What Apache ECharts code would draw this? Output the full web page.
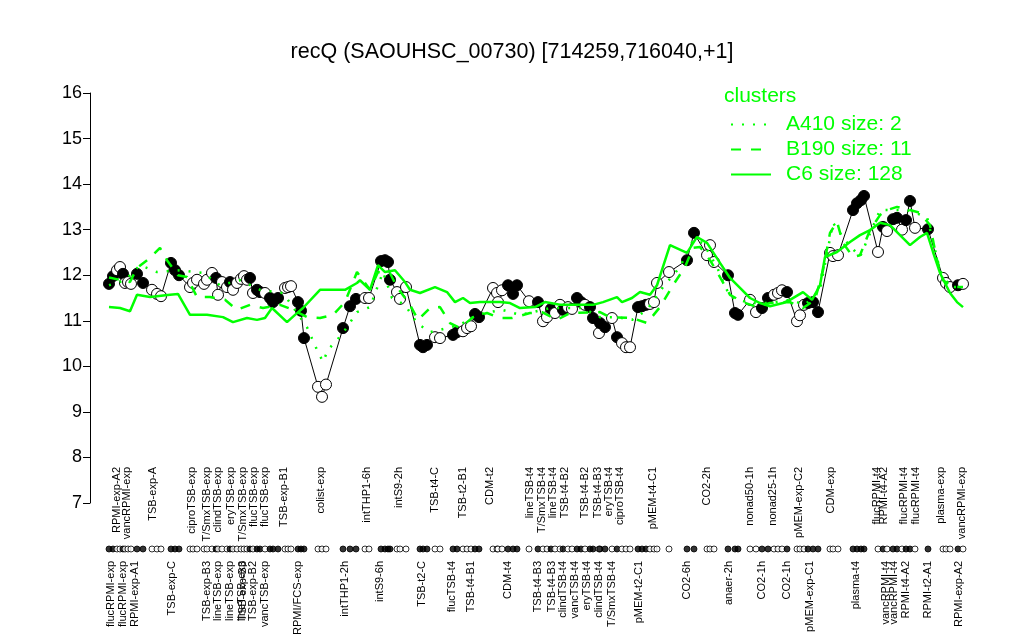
<!DOCTYPE html>
<html><head><meta charset="utf-8">
<script src="https://cdn.jsdelivr.net/npm/echarts@6/dist/echarts.min.js"></script>
<style>html,body{margin:0;padding:0;background:#fff}#c{width:1024px;height:640px}</style>
</head><body><div id="c"></div>
<script>
// condition positions along the x axis (condition order units)
const xPos = [19,23,27,30,33,35,38,41,47,53,
62,67,71,81,85,89,100,103,107,
114,117,122,126,128,132,137,140,143,147,151,154,157,160,163,167,170,175,180,183,188,195,198,201,
208,211,214,
228,232,236,
253,260,266,275,279,
291,295,298,300,307,310,316,
330,333,337,345,350,
363,367,373,377,381,385,389,
403,407,408,412,418,423,427,
439,448,453,457,461,465,470,473,478,482,487,491,495,500,503,509,510,515,522,527,532,536,540,
548,552,556,560,564,567,579,
597,604,617,620,624,
638,645,648,
660,666,672,678,684,688,692,697,
707,710,714,718,723,728,
740,743,748,
763,767,771,774,
788,793,797,803,807,812,816,820,825,838,
853,856,860,868,873];
// expression values (log2)
const values = [11.81,11.98,12.11,12.18,12.03,11.83,11.85,11.81,12.03,11.83,
11.68,11.59,11.54,12.27,12.11,12.00,11.74,11.83,11.90,
11.81,11.90,12.05,11.94,11.57,11.85,11.74,11.85,11.68,11.83,11.92,11.98,11.90,11.94,11.61,11.68,11.63,11.61,11.50,11.41,11.50,11.72,11.74,11.76,
11.41,11.22,10.62,
9.55,9.33,9.60,
10.84,11.32,11.48,11.50,11.50,
12.31,12.33,12.29,11.90,11.63,11.48,11.74,
10.47,10.42,10.47,10.64,10.62,
10.69,10.75,10.77,10.84,10.88,11.15,11.08,
11.72,11.61,11.41,11.67,11.78,11.59,11.78,
11.43,11.41,10.99,11.08,11.26,11.17,11.35,11.24,11.30,11.26,11.50,11.41,11.35,11.30,11.06,10.73,10.95,10.86,11.06,10.64,10.51,10.42,10.42,
11.30,11.32,11.35,11.37,11.41,11.83,12.07,
12.33,12.93,12.44,12.66,12.29,
12.00,11.17,11.13,
11.46,11.19,11.28,11.50,11.57,11.61,11.67,11.63,
10.99,11.12,11.35,11.39,11.41,11.19,
12.49,12.42,12.44,
13.43,13.58,13.65,13.74,
12.51,13.06,12.97,13.23,13.26,13.00,13.21,13.63,13.04,13.01,
11.94,11.83,11.74,11.78,11.81];
// 1 = black filled group, 0 = white group
const filled = [1,1,0,0,1,0,0,0,1,1,
0,0,0,1,1,1,0,0,0,
0,0,0,1,0,0,0,1,0,0,0,0,0,1,0,1,1,0,1,1,1,0,0,0,
1,1,1,
0,0,0,
1,1,1,0,0,
1,1,1,1,0,0,0,
1,1,1,0,0,
1,1,0,0,0,1,1,
0,0,0,0,1,1,1,
0,1,0,0,1,0,0,1,0,0,1,1,0,1,1,0,1,1,0,1,0,0,0,
1,1,1,0,0,0,0,
1,1,0,0,0,
1,1,1,
0,0,1,1,0,0,0,1,
0,0,0,1,1,1,
0,0,0,
1,1,1,1,
0,1,0,1,1,0,1,1,0,1,
0,0,0,1,0];

// cluster profiles
const c6X = [19,30,40,47,60,80,88,100,117,133,143,157,167,175,182,197,205,213,230,255,267,270,280,288,295,305,315,320,330,345,357,365,373,380,390,410,420,430,445,455,470,503,513,527,532,542,550,560,567,580,597,607,617,630,640,650,660,670,680,693,700,713,722,730,735,747,760,770,780,790,800,810,820,830,837,843,850,860,867,873];
const c6Y = [11.30,11.28,11.21,11.57,11.52,11.57,11.59,11.13,11.13,11.08,10.97,11.06,11.02,11.06,11.28,10.97,11.13,11.28,11.68,11.68,11.83,11.89,11.68,12.22,12.07,12.11,11.85,11.68,11.61,11.74,11.63,11.41,11.50,11.39,11.41,11.41,11.39,11.28,11.30,11.41,11.35,11.35,11.41,11.52,11.41,11.50,11.63,11.57,11.78,12.66,12.49,12.84,12.71,12.27,11.94,11.72,11.50,11.39,11.32,11.39,11.46,11.63,11.46,11.78,12.40,12.51,12.73,12.88,12.99,13.15,13.10,12.88,12.66,12.84,12.93,12.51,12.05,11.61,11.41,11.30];
const b190X = [19,40,47,60,70,77,88,97,107,120,135,147,160,173,190,203,217,230,243,255,267,280,288,300,307,320,328,340,350,360,370,383,397,410,422,440,452,467,480,510,520,542,557,570,583,595,603,610,620,630,640,653,667,680,700,713,725,733,740,747,753,763,770,780,790,797,807,820,830,840,847,853,863,873];
const b190Y = [11.95,11.85,12.16,12.38,12.60,12.33,12.00,11.96,11.52,11.52,11.46,11.24,11.35,11.28,11.35,11.24,11.08,11.06,11.13,11.41,12.07,11.68,12.07,12.05,11.74,11.35,11.02,11.28,11.30,10.95,10.84,11.08,11.17,11.06,11.06,11.17,11.19,11.02,11.17,11.19,11.08,11.06,10.95,11.30,11.78,12.18,12.60,12.62,12.33,11.96,11.57,11.41,11.30,11.39,11.41,11.28,11.46,12.11,12.93,13.17,12.71,12.40,12.44,12.99,13.32,13.43,13.50,13.43,13.37,13.10,12.33,11.89,11.74,11.74];
const a410X = [19,35,50,67,90,113,130,150,170,193,203,217,227,233,238,253,267,280,293,302,315,327,340,350,370,387,400,412,430,443,460,493,510,527,542,557,573,590,603,613,627,640,660,680,700,715,730,743,755,770,790,817,837,850,860,873];
const a410Y = [11.78,11.89,12.22,12.07,12.11,12.05,11.78,11.89,11.68,11.61,11.30,10.86,10.36,10.10,10.36,10.73,11.19,11.30,12.07,11.50,11.35,10.95,10.75,10.80,10.91,11.13,11.19,11.24,11.13,11.19,11.28,11.28,11.08,11.08,11.02,11.24,11.74,12.18,12.77,12.71,12.18,11.52,11.39,11.39,11.46,11.35,11.68,13.15,12.77,12.40,13.43,13.43,13.28,12.11,11.74,11.74];

// condition labels (upper row and lower row)
const topLabels = ['RPMI-exp-A2','vancRPMI-exp','TSB-exp-A','ciproTSB-exp','T/SmxTSB-exp','clindTSB-exp','eryTSB-exp','T/SmxTSB-exp','flucTSB-exp','flucTSB-exp','TSB-exp-B1','colist-exp','intTHP1-6h','intS9-2h','TSB-t4-C','TSB-t2-B1','CDM-t2','lineTSB-t4','T/SmxTSB-t4','lineTSB-t4','TSB-t4-B2','TSB-t4-B2','TSB-t4-B3','eryTSB-t4','ciproTSB-t4','pMEM-t4-C1','CO2-2h','nonad50-1h','nonad25-1h','pMEM-exp-C2','CDM-exp','flucRPMI-t4','RPMI-t4-A2','flucRPMI-t4','flucRPMI-t4','plasma-exp','vancRPMI-exp'];
const topLabelPos = [27,37,63,102,117,128,141,153,164,175,194,231,277,309,345,373,400,440,452,463,475,495,508,519,530,563,617,660,683,709,741,787,794,814,826,851,872];
const bottomLabels = ['flucRPMI-exp','flucRPMI-exp','RPMI-exp-A1','TSB-exp-C','TSB-exp-B3','lineTSB-exp','lineTSB-exp','lineTSB-exp','TSB-exp-B3','TSB-exp-B2','vancTSB-exp','RPMI/FCS-exp','intTHP1-2h','intS9-6h','TSB-t2-C','flucTSB-t4','TSB-t4-B1','CDM-t4','TSB-t4-B3','TSB-t4-B3','clindTSB-t4','vancTSB-t4','eryTSB-t4','clindTSB-t4','T/SmxTSB-t4','pMEM-t2-C1','CO2-6h','anaer-2h','CO2-1h','CO2-1h','pMEM-exp-C1','plasma-t4','vancRPMI-t4','vancRPMI-t4','RPMI-t4-A2','RPMI-t2-A1','RPMI-exp-A2'];
const bottomLabelPos = [21,33,45,82,117,128,140,151.5,152.5,163,175,208,255,290,332,362,381,418,448,462,473,485,497,509,522,549,597,639,672,697,720,766,796,804,816,838,869];
const yTicks = [7,8,9,10,11,12,13,14,15,16];

const GREEN = '#00ff00';
const FONT = 'Liberation Sans, Arial, Helvetica, sans-serif';
const X_MAX = 910;
const zip = (xs, ys) => xs.map((x, i) => [x, ys[i]]);
const labelMap = (pos, names) => { const m = {}; pos.forEach((p, i) => { m[String(p)] = names[i]; }); return m; };
const topMap = labelMap(topLabelPos, topLabels);
const botMap = labelMap(bottomLabelPos, bottomLabels);
// empty guard labels at both ends keep ECharts from dropping overlapping first/last labels
const condAxis = (gridIndex, pos, map, margin) => ({
  gridIndex, type: 'value', min: 0, max: X_MAX, position: 'bottom',
  axisLine: { show: false }, axisTick: { show: false }, splitLine: { show: false },
  axisLabel: { customValues: [0].concat(pos, [X_MAX]), rotate: 90, margin, fontSize: 11, color: '#000', fontFamily: FONT,
    hideOverlap: false,
    formatter: v => map[String(v)] || '' }
});

const chart = echarts.init(document.getElementById('c'));
chart.setOption({
  animation: false,
  backgroundColor: '#fff',
  textStyle: { fontFamily: FONT },
  title: [
    { text: 'recQ (SAOUHSC_00730) [714259,716040,+1]', left: 'center', top: 36,
      textStyle: { fontFamily: FONT, fontSize: 21.5, fontWeight: 'normal', color: '#000' } },
    { text: 'clusters', left: 719, top: 81,
      textStyle: { fontFamily: FONT, fontSize: 21, fontWeight: 'normal', color: GREEN } }
  ],
  legend: {
    orient: 'vertical', left: 725, top: 109, itemWidth: 40, itemHeight: 14, itemGap: 4,
    data: ['A410 size: 2', 'B190 size: 11', 'C6 size: 128'],
    itemStyle: { color: 'rgba(0,0,0,0)', borderWidth: 0, opacity: 0 },
    textStyle: { fontFamily: FONT, fontSize: 21, lineHeight: 21, color: GREEN, padding: [0, 0, 0, 10] }
  },
  grid: [
    { left: 90, width: 910, top: 93, height: 410 },
    { left: 90, width: 910, top: 541, height: 16 },
    { left: 90, width: 910, top: 445, height: 20 }
  ],
  xAxis: [
    { gridIndex: 0, type: 'value', min: 0, max: X_MAX, show: false },
    condAxis(1, bottomLabelPos, botMap, 4),
    condAxis(2, topLabelPos, topMap, 2)
  ],
  yAxis: [
    { gridIndex: 0, type: 'value', min: 7, max: 16, interval: 1,
      axisLine: { show: true, lineStyle: { color: '#000', width: 1 } },
      axisTick: { show: true, length: 7, lineStyle: { color: '#000' } },
      splitLine: { show: false },
      axisLabel: { customValues: yTicks, fontSize: 18, color: '#000', margin: 8, fontFamily: FONT } },
    { gridIndex: 1, type: 'value', min: -1, max: 1, show: false },
    { gridIndex: 2, type: 'value', min: -1, max: 1, show: false }
  ],
  series: [
    { name: 'profile', type: 'line', xAxisIndex: 0, yAxisIndex: 0, data: zip(xPos, values),
      symbol: 'none', lineStyle: { color: '#000', width: 1 }, z: 2, silent: true },
    { name: 'points', type: 'scatter', xAxisIndex: 0, yAxisIndex: 0, data: zip(xPos, values),
      symbol: 'circle', symbolSize: 11, z: 3,
      itemStyle: { color: p => filled[p.dataIndex] ? '#000' : '#fff', borderColor: '#000', borderWidth: 1, opacity: 1 } },
    { name: 'A410 size: 2', type: 'line', xAxisIndex: 0, yAxisIndex: 0, data: zip(a410X, a410Y),
      symbol: 'none', z: 4, lineStyle: { color: GREEN, width: 2.5, type: [2, 9], cap: 'butt' }, itemStyle: { color: GREEN } },
    { name: 'B190 size: 11', type: 'line', xAxisIndex: 0, yAxisIndex: 0, data: zip(b190X, b190Y),
      symbol: 'none', z: 4, lineStyle: { color: GREEN, width: 2.5, type: [10, 10], cap: 'butt' }, itemStyle: { color: GREEN } },
    { name: 'C6 size: 128', type: 'line', xAxisIndex: 0, yAxisIndex: 0, data: zip(c6X, c6Y),
      symbol: 'none', z: 4, lineStyle: { color: GREEN, width: 2.5, type: 'solid' }, itemStyle: { color: GREEN } },
    { name: 'strip', type: 'scatter', xAxisIndex: 1, yAxisIndex: 1, data: xPos.map(x => [x, 0]),
      symbol: 'circle', symbolSize: 6, z: 3,
      itemStyle: { color: p => filled[p.dataIndex] ? '#000' : '#fff', borderColor: '#000', borderWidth: 1 } }
  ]
});
</script>
</body></html>
